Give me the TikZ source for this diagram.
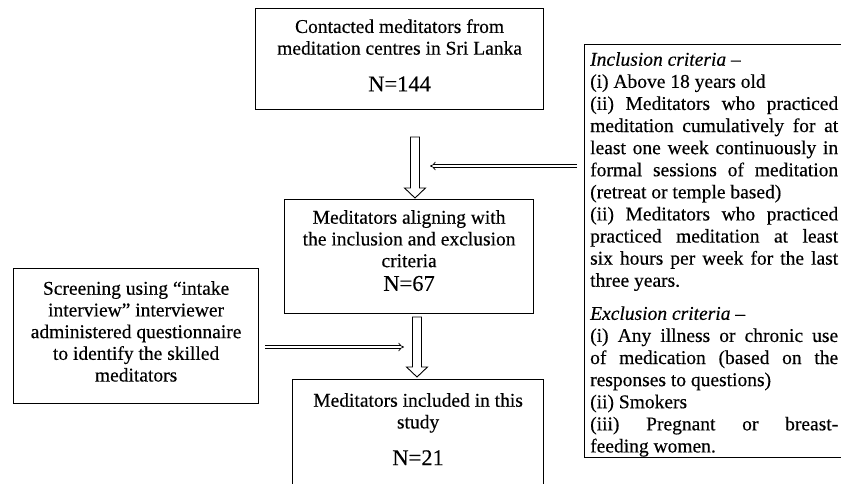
\documentclass[tikz,border=0pt]{standalone}
\usepackage{fontspec}
\setmainfont{Liberation Serif}[FakeBold=0.35]
\usetikzlibrary{arrows.meta,calc}

\tikzset{
  frame/.style={draw, line width=1.2pt, inner sep=0pt, anchor=north west},
  boxtext/.style={inner sep=0pt, anchor=north, align=center, font=\fontsize{19.5}{21.7}\selectfont},
  dblarrow/.style={double, double distance=2.2pt, line width=0.7pt, -{Implies}},
  hollow/.style={draw, line width=0.9pt, fill=white}
}
\newcommand{\Nsize}{\fontsize{22.5}{25}\selectfont}
% hollow block arrow pointing down, from #1 to the tip #2
\newcommand{\hollowdown}[2]{%
  \draw[hollow] let \p1=(#1), \p2=(#2) in
    (\x1-4.5pt,\y1) -- (\x1+4.5pt,\y1) -- (\x1+4.5pt,\y2+10pt) -- (\x1+10.5pt,\y2+10pt)
    -- (\x2,\y2) -- (\x1-10.5pt,\y2+10pt) -- (\x1-4.5pt,\y2+10pt) -- cycle;}

\begin{document}
\begin{tikzpicture}[x=1pt,y=-1pt]
\useasboundingbox (0,0) rectangle (841,483);
\clip (0,0) rectangle (841,483);

% boxes
\node[frame, minimum width=288pt, minimum height=101pt] (contact) at (255,8) {};
\node[frame, minimum width=249pt, minimum height=114pt] (aligned) at (284,199) {};
\node[frame, minimum width=251pt, minimum height=120pt] (included) at (292,379) {};
\node[frame, minimum width=245pt, minimum height=135pt] (screen) at (13,268) {};
\node[frame, minimum width=261pt, minimum height=413pt] (criteria) at (584,44) {};

% texts
\node[boxtext] (contacttxt) at ($(contact.north)+(0,11)$)
  {Contacted meditators from\\ meditation centres in Sri Lanka\\[15pt] {\Nsize N=144}};
\node[boxtext] (alignedtxt) at ($(aligned.north)+(0,11)$)
  {Meditators aligning with\\ the inclusion and exclusion\\ criteria\\[2pt] {\Nsize N=67}};
\node[boxtext] (includedtxt) at ($(included.north)+(0,14)$)
  {Meditators included in this\\ study\\[15pt] {\Nsize N=21}};
\node[boxtext] (screentxt) at ($(screen.north)+(0,13)$)
  {Screening using ``intake\\ interview'' interviewer\\ administered questionnaire\\ to identify the skilled\\ meditators};
\node[boxtext, anchor=north west, text width=248pt, align=justify,
      font=\fontsize{19.5}{22.1}\selectfont] (criteriatxt) at ($(criteria.north west)+(6,8)$)
  {\sloppy\textit{Inclusion criteria –}\\
  (i) Above 18 years old\\
  (ii) Meditators who practiced\linebreak
  meditation cumulatively for at\linebreak
  least one week continuously in\linebreak
  formal sessions of meditation\linebreak
  (retreat or temple based)\\
  (ii) Meditators who practiced\linebreak
  practiced meditation at least\linebreak
  six hours per week for the last\linebreak
  three years.\\[11pt]
  \textit{Exclusion criteria –}\\
  (i) Any illness or chronic use\linebreak
  of medication (based on the\linebreak
  responses to questions)\\
  (ii) Smokers\\
  (iii) Pregnant or breast-\linebreak
  feeding women.};

% arrows
\coordinate (down1s) at (415,137);
\coordinate (down1e) at (415,198);
\coordinate (down2s) at (417,317);
\coordinate (down2e) at (417,377);
\hollowdown{down1s}{down1e}
\hollowdown{down2s}{down2e}

\coordinate (inclS) at (577,166);
\coordinate (inclE) at (430,166);
\draw[dblarrow] (inclS) -- (inclE);

\coordinate (scrS) at (265,347);
\coordinate (scrE) at (404,347);
\draw[dblarrow] (scrS) -- (scrE);
\end{tikzpicture}
\end{document}
